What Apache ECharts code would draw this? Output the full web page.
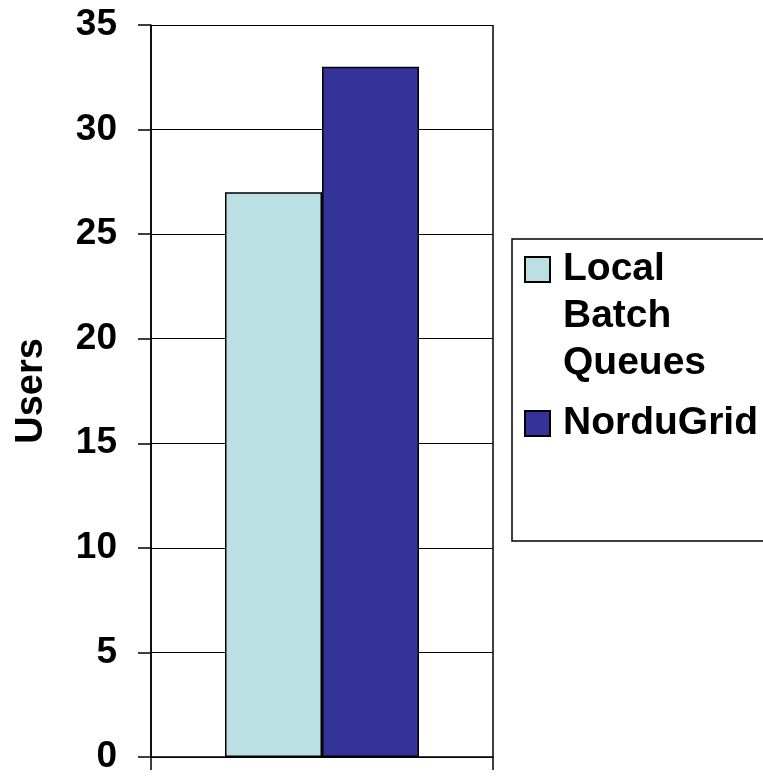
<!DOCTYPE html>
<html>
<head>
<meta charset="utf-8">
<script src="https://cdn.jsdelivr.net/npm/echarts@6/dist/echarts.min.js"></script>
<style>
html,body{margin:0;padding:0;background:#fff;}
#chart{width:763px;height:776px;}
</style>
</head>
<body>
<div id="chart"></div>
<script>
var categories = ['Users'];
var seriesNames = ['Local Batch Queues', 'NorduGrid'];
var localBatchQueues = [27];
var norduGrid = [33];
var yAxisName = 'Users';

var FONT = '"Liberation Sans", Arial, sans-serif';
var L = 47;

var chart = echarts.init(document.getElementById('chart'));
chart.setOption({
  animation: false,
  backgroundColor: '#ffffff',
  grid: { left: 151, right: 270, top: 25, bottom: 19, containLabel: false, outerBoundsMode: 'none' },
  xAxis: {
    type: 'category',
    data: categories,
    boundaryGap: true,
    axisLine: { show: true, lineStyle: { color: '#000', width: 1.5 } },
    axisTick: { show: true, inside: false, length: 13, lineStyle: { color: '#000', width: 1.5 } },
    axisLabel: { show: false },
    splitLine: { show: true, lineStyle: { color: '#000', width: 1.5 } }
  },
  yAxis: {
    type: 'value',
    min: 0, max: 35, interval: 5,
    name: yAxisName,
    nameLocation: 'middle',
    nameGap: 100,
    nameRotate: 90,
    nameTextStyle: { fontFamily: FONT, fontWeight: 'bold', fontSize: 38, color: '#000' },
    axisLine: { show: true, lineStyle: { color: '#000', width: 1.5 } },
    axisTick: { show: true, inside: false, length: 13, lineStyle: { color: '#000', width: 1.5 } },
    axisLabel: { margin: 34, fontFamily: FONT, fontWeight: 'bold', fontSize: 37, color: '#000' },
    splitLine: { show: true, lineStyle: { color: '#000', width: 1.2 } }
  },
  legend: [
    {
      data: [seriesNames[0]],
      orient: 'vertical',
      left: 524, top: 257 + 12.5 - 2.5 * L,
      padding: 0,
      itemWidth: 25, itemHeight: 25,
      icon: 'rect',
      formatter: function (n) { return '\n\n' + n.split(' ').join('\n'); },
      textStyle: { fontFamily: FONT, fontWeight: 'bold', fontSize: 39, color: '#000', lineHeight: L, padding: [0, 0, 0, 8] }
    },
    {
      data: [seriesNames[1]],
      orient: 'vertical',
      left: 524, top: 411 + 12.5 - L / 2,
      padding: 0,
      itemWidth: 25, itemHeight: 25,
      icon: 'rect',
      textStyle: { fontFamily: FONT, fontWeight: 'bold', fontSize: 39, color: '#000', lineHeight: L, padding: [0, 0, 0, 8] }
    }
  ],
  graphic: [
    { type: 'rect', shape: { x: 512, y: 239, width: 300, height: 302 }, style: { fill: 'none', stroke: '#000', lineWidth: 1.5 }, silent: true }
  ],
  series: [
    {
      name: seriesNames[0], type: 'bar', data: localBatchQueues,
      barWidth: 97, barGap: '0%',
      itemStyle: { color: '#BBE0E3', borderColor: '#000', borderWidth: 1.5 }
    },
    {
      name: seriesNames[1], type: 'bar', data: norduGrid,
      barWidth: 97, barGap: '0%',
      itemStyle: { color: '#333399', borderColor: '#000', borderWidth: 1.5 }
    }
  ]
});
</script>
</body>
</html>
